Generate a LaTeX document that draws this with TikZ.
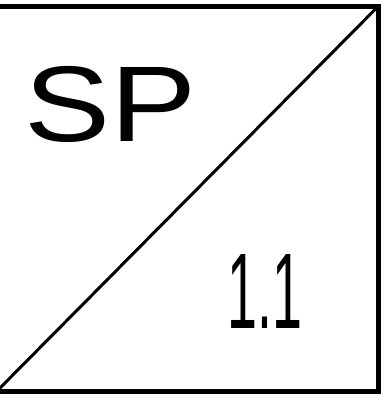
\documentclass[tikz,border=0pt]{standalone}
\usepackage{fontspec}
\setmainfont{Liberation Sans}
\definecolor{frameink}{HTML}{000000}
\tikzset{
  framestroke/.style={draw=frameink, line width=6, line join=miter},
  bigletters/.style={inner sep=0, text=frameink, font=\fontsize{108}{108}\selectfont}
}
\begin{document}
\begin{tikzpicture}[x=1bp,y=1bp]
\useasboundingbox (0,0) rectangle (391,402);
\clip (0,0) rectangle (391,402);
% frame, left side cut off
\draw[framestroke] (-10,395.5) -- (378.5,395.5) -- (378.5,10.5) -- (-10,10.5);
% diagonal
\draw[frameink, line width=3] (-3,11) -- (378.5,396);
% labels
\node[bigletters, xscale=1.2] (sp) at (110.5,298) {SP};
\node[bigletters, xscale=0.5] (num) at (265,110.5) {1.1};
\end{tikzpicture}
\end{document}
